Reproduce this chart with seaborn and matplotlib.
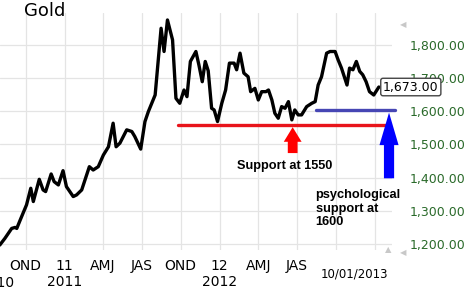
import matplotlib
matplotlib.use("Agg")
import matplotlib.pyplot as plt
import matplotlib.dates as mdates
import matplotlib.transforms as mtransforms
import numpy as np
import pandas as pd
import seaborn as sns

# ---- data ----
dates = ["2010-08-01", "2010-08-13", "2010-08-29", "2010-09-06", "2010-09-10", "2010-09-18",
         "2010-10-03", "2010-10-13", "2010-10-19", "2010-11-02", "2010-11-11", "2010-11-17",
         "2010-11-30", "2010-12-07", "2010-12-17", "2010-12-28", "2011-01-05", "2011-01-21",
         "2011-01-29", "2011-02-10", "2011-02-28", "2011-03-09", "2011-03-21", "2011-04-02",
         "2011-04-14", "2011-04-25", "2011-05-02", "2011-05-11", "2011-05-27", "2011-06-08",
         "2011-06-15", "2011-06-29", "2011-07-09", "2011-07-17", "2011-08-02", "2011-08-16",
         "2011-08-23", "2011-08-31", "2011-09-12", "2011-09-20", "2011-09-29", "2011-10-09",
         "2011-10-16", "2011-10-24", "2011-11-06", "2011-11-13", "2011-11-21", "2011-11-28",
         "2011-12-05", "2011-12-13", "2011-12-19", "2011-12-27", "2012-01-06", "2012-01-15",
         "2012-01-24", "2012-02-04", "2012-02-10", "2012-02-18", "2012-02-27", "2012-03-08",
         "2012-03-14", "2012-03-24", "2012-04-01", "2012-04-09", "2012-04-19", "2012-04-25",
         "2012-05-03", "2012-05-10", "2012-05-18", "2012-05-26", "2012-06-03", "2012-06-11",
         "2012-06-19", "2012-06-26", "2012-07-04", "2012-07-12", "2012-07-24", "2012-08-05",
         "2012-08-13", "2012-08-20", "2012-08-28", "2012-09-09", "2012-09-17", "2012-09-29",
         "2012-10-06", "2012-10-14", "2012-10-27", "2012-11-02", "2012-11-10", "2012-11-18",
         "2012-11-26", "2012-12-03", "2012-12-11", "2012-12-19", "2012-12-29", "2013-01-10"]
prices = [1197, 1217, 1247, 1250, 1247, 1272,
          1318, 1368, 1328, 1395, 1363, 1358,
          1411, 1388, 1378, 1421, 1373, 1343,
          1348, 1363, 1433, 1423, 1433, 1468,
          1493, 1564, 1493, 1504, 1544, 1539,
          1524, 1486, 1569, 1599, 1649, 1850,
          1780, 1875, 1815, 1639, 1624, 1664,
          1644, 1750, 1780, 1740, 1689, 1750,
          1722, 1609, 1604, 1569, 1624, 1664,
          1745, 1745, 1725, 1775, 1715, 1704,
          1659, 1669, 1634, 1659, 1659, 1664,
          1634, 1594, 1579, 1614, 1609, 1629,
          1574, 1604, 1589, 1589, 1614, 1624,
          1629, 1679, 1704, 1775, 1780, 1780,
          1755, 1730, 1679, 1730, 1725, 1750,
          1720, 1710, 1689, 1659, 1649, 1673]

tick_dates = ["2010-10-01", "2011-01-01", "2011-04-01", "2011-07-01", "2011-10-01",
              "2012-01-01", "2012-04-01", "2012-07-01", "2012-10-01", "2013-01-01"]
tick_labels = ["OND", "11\n2011", "AMJ", "JAS", "OND", "12\n2012", "AMJ", "JAS", "", ""]
y_ticks = [1200, 1300, 1400, 1500, 1600, 1700, 1800]

support_value = 1560
psych_value = 1605
last_value = prices[-1]
last_date_label = "10/01/2013"

df = pd.DataFrame({"date": pd.to_datetime(dates), "price": prices})

# ---- figure ----
sns.set_style("white")
plt.rcParams["font.family"] = ["DejaVu Sans"]
plt.rcParams["text.color"] = "black"

W, H = 468, 291
fig = plt.figure(figsize=(W / 100, H / 100), dpi=100)
ax = fig.add_axes([0, 1 - 250 / H, 392 / W, (250 - 13) / H])

base = mdates.date2num(pd.Timestamp("2010-10-01"))
ax.set_xlim(base - 60.5, base + (392 - 25.7) * 2.356)
ax.set_ylim(1182, 1896)

for s in ax.spines.values():
    s.set_visible(False)
ax.grid(True, color="#e4e4e4", lw=0.9)
ax.set_axisbelow(True)

sns.lineplot(data=df, x="date", y="price", ax=ax, color="black", lw=2.4, zorder=4)
ax.set_xlabel("")
ax.set_ylabel("")

ax.set_xticks(mdates.date2num(pd.to_datetime(tick_dates)))
ax.set_xticklabels(tick_labels, fontsize=10, linespacing=1.2, color="black")
ax.tick_params(axis="x", length=0, pad=6.5, labelcolor="black")

ax.yaxis.tick_right()
ax.set_yticks(y_ticks)
ax.set_yticklabels([f"{v:,.2f}" for v in y_ticks], fontsize=9, color="#2a6a2a")
ax.tick_params(axis="y", length=0, pad=13)

d = lambda s: mdates.date2num(pd.Timestamp(s))

# support lines
ax.plot([d("2011-09-24"), d("2013-01-26")], [support_value, support_value],
        color="#e8141b", lw=2.4, zorder=3, clip_on=False)
ax.plot([d("2012-08-14"), d("2013-02-18")], [psych_value, psych_value],
        color="#4646b4", lw=2.4, zorder=3, clip_on=False)

def up_arrow(xc, tip, base_v, bottom, head_hw, stem_hw, color):
    xs = [xc, xc + head_hw, xc + stem_hw, xc + stem_hw, xc - stem_hw, xc - stem_hw, xc - head_hw]
    ys = [tip, base_v, base_v, bottom, bottom, base_v, base_v]
    ax.fill(xs, ys, color=color, lw=0, zorder=5, clip_on=False)

up_arrow(d("2012-06-21"), 1552, 1508, 1474, 21, 11.5, "#ff0000")
up_arrow(d("2013-02-03"), 1596, 1498, 1398, 22.5, 12, "#0000ff")

ax.text(d("2012-02-10"), 1435, "Support at 1550", fontsize=9.2, fontweight="bold",
        family=["Liberation Sans"], va="center", ha="left", color="black", zorder=6)
ax.text(d("2012-08-14"), 1306, "psychological\nsupport at\n1600", fontsize=9.2,
        fontweight="bold", family=["Liberation Sans"], va="center", ha="left",
        linespacing=1.15, color="black", zorder=6)

# last price box
trans = mtransforms.blended_transform_factory(ax.transAxes, ax.transData)
ax.text(383 / 392, last_value, f"{last_value:,.2f}", transform=trans, fontsize=9,
        va="center", ha="left", color="black", zorder=10,
        bbox=dict(boxstyle="round,pad=0.18", fc="white", ec="#444444", lw=1))

# title and extra labels
fig.text(24 / W, 1 - 2 / H, "Gold", fontsize=13, va="top", ha="left", color="black")
fig.text(-3 / W, 1 - 283 / H, "2010", fontsize=10, va="center", ha="center", color="black")
fig.text(354 / W, 1 - 274 / H, last_date_label, fontsize=8.5, va="center", ha="center",
         color="black")

fig.text(403 / W, 1 - 25 / H, "\u25c0", fontsize=6, color="#c8c8c8", va="center", ha="center")
fig.text(388 / W, 1 - 250 / H, "\u25b2", fontsize=6, color="#c8c8c8", va="center", ha="center")
fig.text(403 / W, 1 - 253 / H, "\u25c0", fontsize=6, color="#c8c8c8", va="center", ha="center")

fig.savefig("out.png", dpi=100)
